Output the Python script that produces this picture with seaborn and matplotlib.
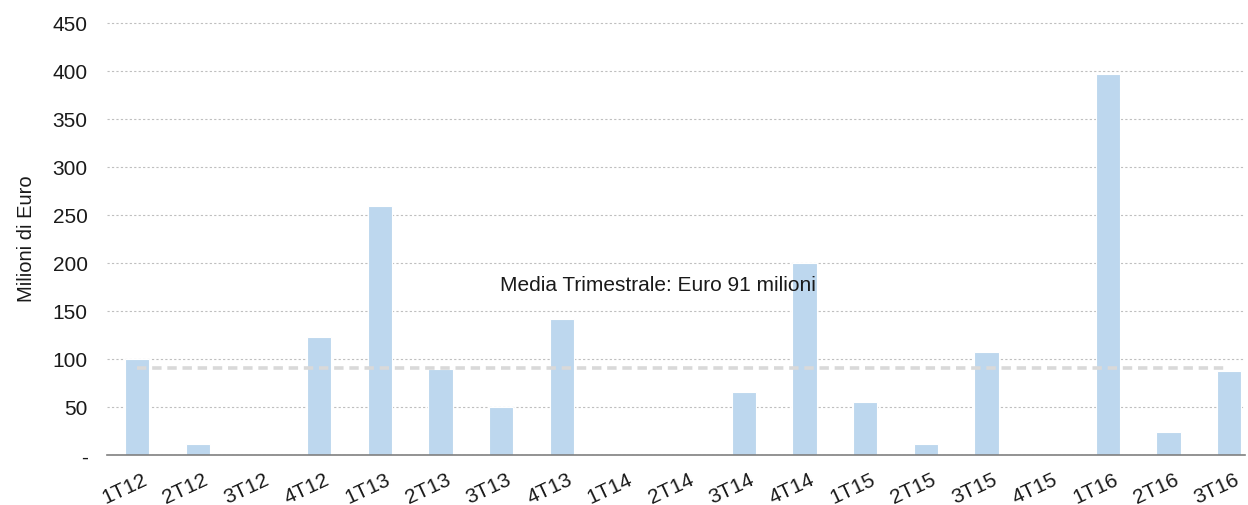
import matplotlib
matplotlib.use("Agg")
import matplotlib.pyplot as plt
import matplotlib.transforms as mtransforms
import seaborn as sns
import pandas as pd

quarters = ["1T12", "2T12", "3T12", "4T12", "1T13", "2T13", "3T13", "4T13", "1T14", "2T14",
            "3T14", "4T14", "1T15", "2T15", "3T15", "4T15", "1T16", "2T16", "3T16"]
values = [100, 11, 0, 123, 259, 90, 50, 142, 0, 0, 66, 200, 55, 11, 107, 0, 397, 24, 87]
average = 91
avg_label = "Media Trimestrale: Euro 91 milioni"
yticks = [0, 50, 100, 150, 200, 250, 300, 350, 400, 450]
ytick_labels = ["-", "50", "100", "150", "200", "250", "300", "350", "400", "450"]

sns.set_style("white")
plt.rcParams["font.family"] = ["Liberation Sans", "DejaVu Sans"]

df = pd.DataFrame({"Trimestre": quarters, "Valore": values})

fig = plt.figure(figsize=(12.48, 5.06), dpi=100)
ax = fig.add_axes([0.0857, 0.0988, 0.9119, 0.8580])

sns.barplot(data=df, x="Trimestre", y="Valore", color="#bdd7ee", saturation=1,
            width=0.4, edgecolor="white", linewidth=0.8, ax=ax, zorder=2)

ax.plot([0, len(quarters) - 1], [average, average], color="#d9d9d9",
        linewidth=2.6, linestyle=(0, (2.6, 1.6)), zorder=3)
ax.text(5.98, 178, avg_label, fontsize=15, color="#1a1a1a", va="center", ha="left", zorder=4)

ax.set_ylim(0, 452)
ax.set_xlim(-0.5, 18.26)
ax.set_yticks(yticks)
ax.set_yticklabels(ytick_labels, fontsize=15, color="#1a1a1a")
ax.yaxis.grid(True, color="#bfbfbf", linestyle=(0, (2, 2)), linewidth=0.8, zorder=0)
ax.set_axisbelow(True)
ax.tick_params(axis="y", length=0, pad=14)
ax.tick_params(axis="x", length=0, pad=10)
offset = mtransforms.ScaledTranslation(5 / 100, 0, fig.dpi_scale_trans)
for lbl in ax.get_xticklabels():
    lbl.set_rotation(25)
    lbl.set_ha("right")
    lbl.set_rotation_mode("anchor")
    lbl.set_fontsize(15)
    lbl.set_color("#1a1a1a")
    lbl.set_transform(lbl.get_transform() + offset)

ax.set_xlabel("")
ax.set_ylabel("Milioni di Euro", fontsize=14.5, color="#1a1a1a", labelpad=12)
for s in ["top", "right", "left"]:
    ax.spines[s].set_visible(False)
ax.spines["bottom"].set_color("#808080")
ax.spines["bottom"].set_linewidth(1.2)

fig.savefig("out.png", dpi=100)
